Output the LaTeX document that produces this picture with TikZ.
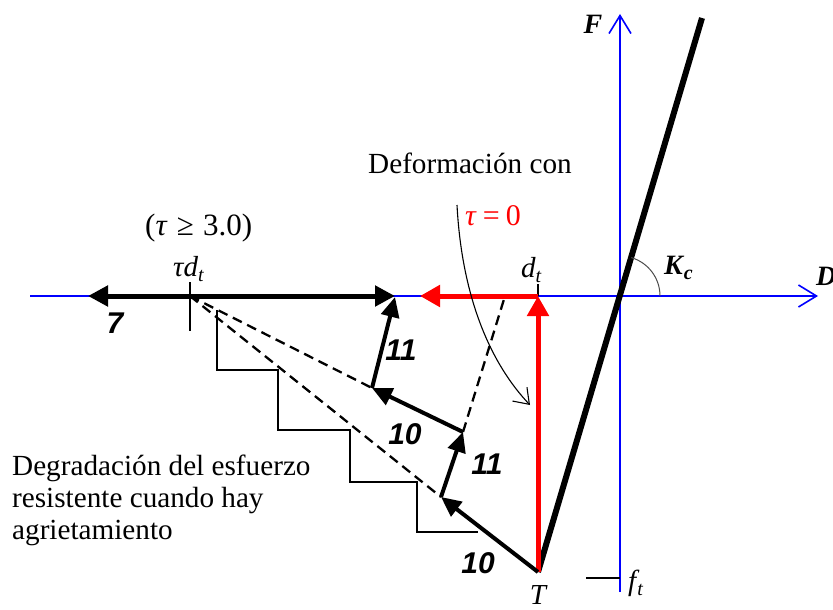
\documentclass[tikz,border=0pt]{standalone}
\usepackage{fontspec}
\setmainfont{Liberation Serif}
\newfontfamily\numfont{Liberation Sans}
\usetikzlibrary{arrows.meta}
\begin{document}
\begin{tikzpicture}[x=1pt,y=-1pt,
  axis/.style={blue, line width=1.6pt},
  axisarrow/.style={axis, -{Straight Barb[length=18pt,width=22pt,line width=1.6pt]}},
  stiff/.style={line width=6pt},
  redarrow/.style={red, line width=5pt, -{Triangle[length=20pt,width=21pt]}},
  blkarrow/.style={line width=4pt, -{Triangle[length=20pt,width=18pt]}},
  dashline/.style={line width=2.3pt, dash pattern=on 10pt off 6pt},
  stair/.style={line width=1.3pt},
  numlab/.style={font=\numfont\bfseries\itshape\fontsize{30}{30}\selectfont},
  mathlab/.style={font=\itshape\fontsize{29}{29}\selectfont, inner sep=0pt},
  txt/.style={font=\fontsize{29.2}{32}\selectfont, inner sep=0pt}
]
\useasboundingbox (0,0) rectangle (833,610);
% key points
\coordinate (O) at (620,296);
\coordinate (axL) at (30,296);
\coordinate (axR) at (818,296);
\coordinate (axT) at (620,14);
\coordinate (axB) at (620,592);
\coordinate (Ktop) at (702,18);
\coordinate (T) at (538,572);
\coordinate (dt) at (538,296);
\coordinate (redend) at (420,296);
\coordinate (P1) at (441,497);
\coordinate (P2) at (463,432);
\coordinate (P3) at (372,388);
\coordinate (P4) at (395,297);
\coordinate (tau) at (190,296);
\coordinate (left) at (88,296);
\coordinate (right) at (395,296);
\coordinate (dashtop) at (505,296);
\coordinate (c1) at (457,205);
\coordinate (c2) at (530,405);
\coordinate (ft1) at (586,578);
\coordinate (ft2) at (620,578);

% axes
\draw[axisarrow] (axL) -- (axR);
\draw[axisarrow] (axB) -- (axT);

% stiffness line
\draw[stiff] (T) -- (Ktop);
\draw[line width=1pt, black!70] (631.3,257.6) arc[start angle=73.6, end angle=0, radius=40pt];

% staircase
\draw[stair] (217,310) -- (217,370) -- (278,370) -- (278,430) -- (350,430)
  -- (350,482) -- (417,482) -- (417,532) -- (478,532);

% dashed lines
\draw[dashline] (tau) -- (P3);
\draw[dashline] (tau) -- (P1);
\draw[dashline] (P2) -- (dashtop);

% ticks
\draw[line width=1.3pt] (190,282) -- (190,331);
\draw[line width=1.3pt] (538,284) -- (dt);
\draw[line width=1.3pt] (ft1) -- (ft2);

% black horizontal arrow
\draw[line width=5pt, {Triangle[length=20pt,width=20pt]}-{Triangle[length=20pt,width=20pt]}] (left) -- (right);

% red arrows
\draw[redarrow] (dt) -- (redend);
\draw[redarrow] (T) -- (dt);

% black path arrows
\draw[blkarrow] (T) -- (P1);
\draw[blkarrow] (P1) -- (P2);
\draw[blkarrow] (P2) -- (P3);
\draw[blkarrow] (P3) -- (P4);

% curved arrow
\draw[line width=1.1pt, -{Straight Barb[length=14pt,width=20pt,line width=1.1pt]}]
  (c1) .. controls (462,300) and (492,365) .. (c2);

% labels
\node[mathlab, font=\bfseries\itshape\fontsize{28}{28}\selectfont, anchor=base] (lF) at (593,34) {F};
\node[mathlab, font=\bfseries\itshape\fontsize{28}{28}\selectfont, anchor=base west] (lD) at (816,285) {D};
\node[mathlab, font=\bfseries\itshape\fontsize{28}{28}\selectfont, anchor=base west] (lK) at (664,274) {K\kern1pt\raisebox{-5pt}{\fontsize{20}{20}\selectfont c}};
\node[mathlab, anchor=base] (lT) at (538,604) {T};
\node[mathlab, anchor=base west] (lft) at (628,590) {f\kern1pt\raisebox{-5pt}{\fontsize{20}{20}\selectfont t}};
\node[mathlab, anchor=base west] (ldt) at (521,277) {d\raisebox{-5pt}{\fontsize{20}{20}\selectfont t}};
\node[mathlab, anchor=base west] (ltau) at (173,276) {τd\raisebox{-5pt}{\fontsize{20}{20}\selectfont t}};
\node[txt, font=\fontsize{31}{31}\selectfont, anchor=base west] (lcond) at (145,235) {(\textit{τ}\hspace{0.3em}≥\hspace{0.3em}3.0)};
\node[txt, font=\fontsize{30}{30}\selectfont, anchor=base west, text=red] (lzero) at (465,225) {\textit{τ}\hspace{0.2em}=\hspace{0.2em}0};
\node[txt, anchor=base west] (ldef) at (368,173) {Deformación con};
\node[txt, anchor=base west, align=left] (ldeg) at (12,539) {Degradación del esfuerzo\\resistente cuando hay\\agrietamiento};

\node[numlab] (n7) at (115,323) {7};
\node[numlab] (n11a) at (401,350) {11};
\node[numlab] (n10a) at (405,434) {10};
\node[numlab] (n11b) at (487,464) {11};
\node[numlab] (n10b) at (478,563) {10};
\end{tikzpicture}
\end{document}
